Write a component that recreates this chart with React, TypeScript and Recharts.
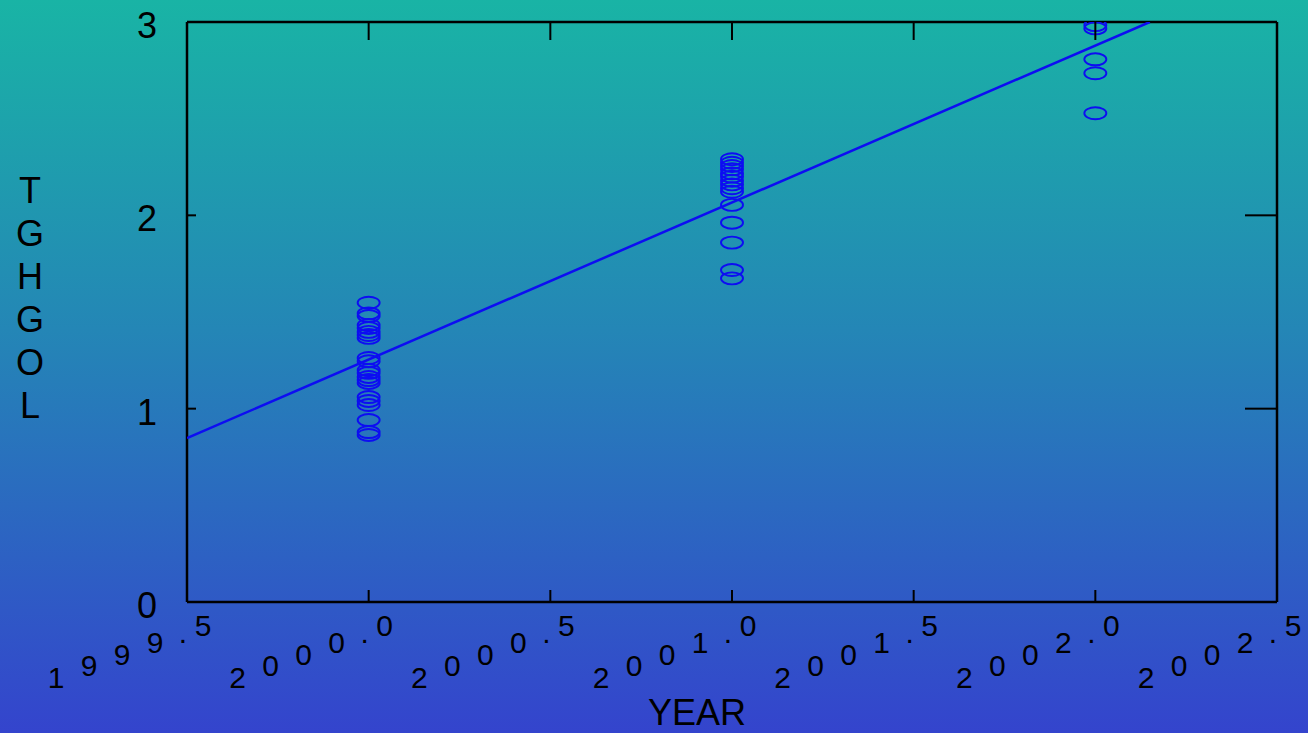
import { ComposedChart, Scatter, XAxis, YAxis } from 'recharts'

const xTicks = [1999.5, 2000.0, 2000.5, 2001.0, 2001.5, 2002.0, 2002.5]
const yTicks = [0, 1, 2, 3]

const y2000 = [1.548, 1.493, 1.479, 1.433, 1.417, 1.397, 1.381, 1.366, 1.262, 1.245, 1.2, 1.185, 1.164, 1.148, 1.133, 1.06, 1.04, 1.019, 0.941, 0.879, 0.864]
const y2001 = [2.29, 2.272, 2.255, 2.238, 2.217, 2.2, 2.179, 2.16, 2.14, 2.122, 2.054, 1.962, 1.859, 1.717, 1.674]
const y2002 = [2.984, 2.967, 2.807, 2.735, 2.528]

// fitted line (it leaves the frame at the top)
const fitX = [1999.5, 2002.15]
const fitY = [0.848, 3.0]

const yLabel = 'TGHGOL'

const points = [
  ...y2000.map((v) => ({ x: 2000, y: v })),
  ...y2001.map((v) => ({ x: 2001, y: v })),
  ...y2002.map((v) => ({ x: 2002, y: v })),
]
const fit = fitX.map((x, i) => ({ x, y: fitY[i] }))

const BLUE = '#0d0df2'
const FONT = '"Liberation Sans", Arial, sans-serif'

const Ring = (props: any) => (
  <ellipse cx={props.cx} cy={props.cy} rx={11} ry={6} fill="none" stroke={BLUE} strokeWidth={1.9} />
)

const BottomTick = ({ x, y, payload }: any) => {
  const chars = Number(payload.value).toFixed(1).split('')
  const pos: number[] = []
  let cx = x + 16
  for (let i = chars.length - 1; i >= 0; i--) {
    pos[i] = cx
    if (chars[i] === '.') cx -= 28
    else if (i > 0 && chars[i - 1] === '.') cx -= 20
    else cx -= 33
  }
  return (
    <g>
      <line x1={x} y1={y} x2={x} y2={y - 12} stroke="#000" strokeWidth={2} />
      {chars.map((c, i) => (
        <text key={i} x={pos[i]} y={y + 34 + (x + 16 - pos[i]) * 0.355} textAnchor="middle" fontSize={30} fontFamily={FONT} fill="#000">
          {c}
        </text>
      ))}
    </g>
  )
}

const TopTick = ({ x, y }: any) => <line x1={x} y1={y} x2={x} y2={y + 18} stroke="#000" strokeWidth={2} />

const LeftTick = ({ x, y, payload }: any) => (
  <g>
    <line x1={x} y1={y} x2={x + 9} y2={y} stroke="#000" strokeWidth={2} />
    <text x={x - 40} y={y + 16} textAnchor="middle" fontSize={36} fontFamily={FONT} fill="#000">
      {payload.value}
    </text>
  </g>
)

const RightTick = ({ x, y }: any) => <line x1={x} y1={y} x2={x - 32} y2={y} stroke="#000" strokeWidth={2} />

const Nothing = () => <g />

export default function App() {
  return (
    <div
      style={{
        position: 'absolute',
        left: 0,
        top: 0,
        width: 1308,
        height: 733,
        background: 'linear-gradient(to bottom, #19b4a5 0%, #2486b6 45%, #3444cd 100%)',
      }}
    >
      <ComposedChart width={1308} height={733} margin={{ top: 0, right: 0, bottom: 0, left: 0 }}>
        <XAxis
          xAxisId={0}
          type="number"
          dataKey="x"
          domain={[1999.5, 2002.5]}
          ticks={xTicks}
          allowDataOverflow
          height={131}
          tickSize={0}
          tickMargin={0}
          tickLine={false}
          axisLine={{ stroke: '#000', strokeWidth: 2.5 }}
          tick={<BottomTick />}
          interval={0}
          label={({ viewBox }: any) => (
            <text
              x={viewBox.x + viewBox.width / 2 - 35}
              y={viewBox.y + viewBox.height - 8}
              textAnchor="middle"
              fontSize={36}
              fontFamily={FONT}
              fill="#000"
            >
              YEAR
            </text>
          )}
        />
        <XAxis
          xAxisId="top"
          orientation="top"
          type="number"
          dataKey="x"
          domain={[1999.5, 2002.5]}
          ticks={xTicks}
          allowDataOverflow
          height={22}
          tickSize={0}
          tickMargin={0}
          tickLine={false}
          axisLine={{ stroke: '#000', strokeWidth: 2.5 }}
          tick={<TopTick />}
          interval={0}
        />
        <YAxis
          yAxisId={0}
          type="number"
          dataKey="y"
          domain={[0, 3]}
          ticks={yTicks}
          allowDataOverflow
          width={187}
          tickSize={0}
          tickMargin={0}
          tickLine={false}
          axisLine={{ stroke: '#000', strokeWidth: 2.5 }}
          tick={<LeftTick />}
          interval={0}
          label={() => (
            <text x={30} y={203} textAnchor="middle" fontSize={36} fontFamily={FONT} fill="#000">
              {yLabel.split('').map((c, i) => (
                <tspan key={i} x={30} dy={i === 0 ? 0 : 43}>
                  {c}
                </tspan>
              ))}
            </text>
          )}
        />
        <YAxis
          yAxisId="right"
          orientation="right"
          type="number"
          dataKey="y"
          domain={[0, 3]}
          ticks={yTicks}
          allowDataOverflow
          width={31}
          tickSize={0}
          tickMargin={0}
          tickLine={false}
          axisLine={{ stroke: '#000', strokeWidth: 2.5 }}
          tick={<RightTick />}
          interval={0}
        />
        <Scatter data={points} shape={<Ring />} isAnimationActive={false} />
        <Scatter
          data={fit}
          line={{ stroke: BLUE, strokeWidth: 2.5 }}
          shape={<Nothing />}
          isAnimationActive={false}
        />
        <Scatter data={fit} xAxisId="top" yAxisId="right" shape={<Nothing />} isAnimationActive={false} />
      </ComposedChart>
    </div>
  )
}
